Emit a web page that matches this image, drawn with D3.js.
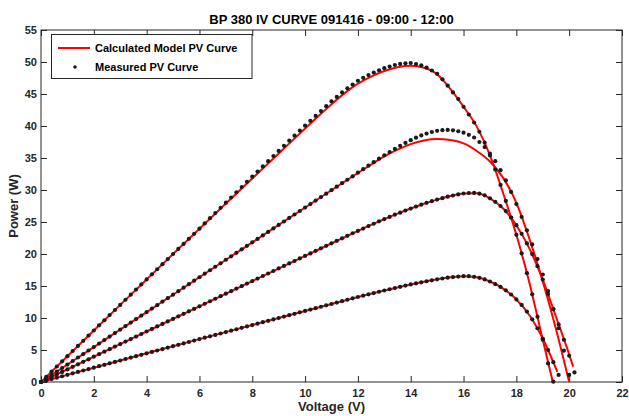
<!DOCTYPE html>
<html>
<head>
<meta charset="utf-8">
<script src="https://cdn.jsdelivr.net/npm/d3@7"></script>
<style>
  body { margin: 0; background: #fff; }
  svg { display: block; font-family: "Liberation Sans", Arial, Helvetica, sans-serif; }
</style>
</head>
<body>
<div id="chart"></div>
<script>
// ---- texts ----
const titleText = "BP 380 IV CURVE 091416 - 09:00 - 12:00";
const xLabel = "Voltage (V)";
const yLabel = "Power (W)";
const legendLabels = ["Calculated Model PV Curve", "Measured PV Curve"];

// ---- ticks ----
const xTicks = [0, 2, 4, 6, 8, 10, 12, 14, 16, 18, 20, 22];
const yTicks = [0, 5, 10, 15, 20, 25, 30, 35, 40, 45, 50, 55];

// ---- measured points : voltage grid shared by the four sweeps ----
const measuredV = [0, 0.2, 0.4, 0.6, 0.8, 1, 1.2, 1.4, 1.6, 1.8,
  2, 2.2, 2.4, 2.6, 2.8, 3, 3.2, 3.4, 3.6, 3.8,
  4, 4.2, 4.4, 4.6, 4.8, 5, 5.2, 5.4, 5.6, 5.8,
  6, 6.2, 6.4, 6.6, 6.8, 7, 7.2, 7.4, 7.6, 7.8,
  8, 8.2, 8.4, 8.6, 8.8, 9, 9.2, 9.4, 9.6, 9.8,
  10, 10.2, 10.4, 10.6, 10.8, 11, 11.2, 11.4, 11.6, 11.8,
  12, 12.2, 12.4, 12.6, 12.8, 13, 13.2, 13.4, 13.6, 13.8,
  14, 14.2, 14.4, 14.6, 14.8, 15, 15.2, 15.4, 15.6, 15.8,
  16, 16.2, 16.4, 16.6, 16.8, 17, 17.2, 17.4, 17.6, 17.8,
  18, 18.2, 18.4, 18.6, 18.8, 19, 19.2, 19.4, 19.6, 19.8,
  20, 20.2];

const measuredP1 = [0, 0.81, 1.61, 2.42, 3.23, 4.03, 4.84, 5.64, 6.44, 7.25,
  8.05, 8.85, 9.65, 10.45, 11.25, 12.05, 12.85, 13.64, 14.44, 15.24,
  16.03, 16.83, 17.62, 18.41, 19.21, 20.0, 20.79, 21.58, 22.37, 23.16,
  23.95, 24.77, 25.59, 26.39, 27.21, 28.02, 28.83, 29.65, 30.45, 31.27,
  32.08, 32.88, 33.69, 34.5, 35.31, 36.11, 36.91, 37.71, 38.49, 39.28,
  40.05, 40.81, 41.57, 42.33, 43.09, 43.85, 44.54, 45.24, 45.89, 46.48,
  47.07, 47.52, 47.95, 48.36, 48.71, 49.04, 49.29, 49.53, 49.7, 49.79,
  49.84, 49.68, 49.48, 49.13, 48.67, 48.16, 47.3, 46.3, 45.25, 44.2,
  43.0, 41.8, 40.55, 39.1, 37.4, 35.4, 33.2, 30.8, 28.3, 25.7,
  23.0, 20.1, 17.0, 13.7, 10.2, 6.6, 2.9, 0.05];

const measuredP2 = [0, 0.55, 1.09, 1.64, 2.19, 2.73, 3.28, 3.83, 4.37, 4.92,
  5.46, 6.01, 6.56, 7.10, 7.65, 8.19, 8.74, 9.28, 9.83, 10.38,
  10.92, 11.47, 12.01, 12.56, 13.10, 13.65, 14.19, 14.74, 15.28, 15.83,
  16.37, 16.92, 17.46, 18.01, 18.55, 19.10, 19.64, 20.19, 20.73, 21.27,
  21.82, 22.36, 22.91, 23.45, 24.0, 24.54, 25.08, 25.63, 26.17, 26.72,
  27.26, 27.8, 28.35, 28.89, 29.43, 29.98, 30.52, 31.06, 31.6, 32.14,
  32.7, 33.25, 33.8, 34.35, 34.9, 35.42, 35.93, 36.42, 36.9, 37.35,
  37.78, 38.17, 38.52, 38.82, 39.06, 39.24, 39.35, 39.38, 39.33, 39.18,
  38.95, 38.62, 38.2, 37.5, 36.7, 35.7, 34.5, 33.1, 31.5, 29.7,
  27.8, 25.8, 23.7, 21.5, 19.2, 16.8, 14.2, 11.4, 8.4, 4.9,
  1.1];

const measuredP3 = [0, 0.4, 0.79, 1.19, 1.58, 1.97, 2.37, 2.76, 3.16, 3.55,
  3.95, 4.34, 4.74, 5.13, 5.53, 5.92, 6.32, 6.71, 7.10, 7.50,
  7.89, 8.29, 8.68, 9.07, 9.47, 9.86, 10.26, 10.65, 11.04, 11.44,
  11.83, 12.23, 12.62, 13.01, 13.41, 13.8, 14.19, 14.59, 14.98, 15.38,
  15.77, 16.16, 16.56, 16.95, 17.34, 17.74, 18.13, 18.52, 18.91, 19.31,
  19.7, 20.09, 20.49, 20.88, 21.27, 21.67, 22.06, 22.45, 22.84, 23.24,
  23.6, 23.98, 24.36, 24.73, 25.1, 25.45, 25.8, 26.14, 26.46, 26.79,
  27.1, 27.41, 27.71, 27.99, 28.25, 28.5, 28.73, 28.95, 29.14, 29.31,
  29.45, 29.53, 29.54, 29.43, 29.17, 28.7, 28.15, 27.5, 26.7, 25.7,
  24.5, 23.15, 21.65, 20.0, 18.1, 16.0, 13.75, 11.4, 9.0, 6.6,
  4.1, 1.5];

const measuredP4 = [0, 0.22, 0.45, 0.67, 0.9, 1.12, 1.35, 1.57, 1.8, 2.02,
  2.24, 2.47, 2.69, 2.92, 3.14, 3.36, 3.59, 3.81, 4.03, 4.25,
  4.48, 4.7, 4.92, 5.14, 5.37, 5.59, 5.81, 6.03, 6.25, 6.47,
  6.7, 6.92, 7.14, 7.36, 7.58, 7.8, 8.02, 8.24, 8.46, 8.68,
  8.9, 9.12, 9.34, 9.56, 9.78, 10.0, 10.22, 10.44, 10.66, 10.88,
  11.1, 11.32, 11.54, 11.76, 11.98, 12.19, 12.41, 12.63, 12.85, 13.07,
  13.28, 13.49, 13.7, 13.9, 14.1, 14.3, 14.49, 14.69, 14.87, 15.06,
  15.24, 15.41, 15.58, 15.74, 15.89, 16.04, 16.17, 16.3, 16.4, 16.48,
  16.53, 16.53, 16.44, 16.27, 16.02, 15.7, 15.3, 14.85, 14.33, 13.67,
  12.9, 12.05, 11.0, 9.8, 8.4, 6.8, 5.0, 3.1, 1.1];

// ---- calculated model curves ----
const modelV1 = [0, 1, 2, 3, 4, 5, 6, 7, 8, 9, 10, 11, 11.5, 12, 12.5, 13, 13.5, 14, 14.5, 15, 15.5, 16, 16.5, 17, 17.5, 18, 18.5, 19, 19.38];
const modelP1 = [0, 4.03, 8.05, 12.05, 16.03, 20.0, 23.95, 27.89, 31.81, 35.71, 39.6, 43.4, 45.14, 46.62, 47.73, 48.59, 49.19, 49.41, 49.1, 48.1, 45.8, 43.0, 39.9, 35.4, 29.5, 23.0, 15.4, 6.6, 0];

const modelV2 = [0, 2, 4, 6, 8, 10, 12, 12.5, 13, 13.5, 14, 14.5, 15, 15.5, 16, 16.5, 17, 17.5, 18, 18.5, 19, 19.5, 20];
const modelP2 = [0, 5.46, 10.92, 16.37, 21.82, 27.26, 32.66, 33.98, 35.26, 36.3, 37.17, 37.74, 37.95, 37.82, 37.28, 36.1, 34.45, 31.9, 28.0, 22.3, 15.7, 8.3, 0];

const modelV3 = [0, 2, 4, 6, 8, 10, 12, 12.5, 13, 13.5, 14, 14.5, 15, 15.5, 16, 16.5, 17, 17.5, 18, 18.5, 19, 19.5, 20, 20.15];
const modelP3 = [0, 3.95, 7.89, 11.83, 15.77, 19.7, 23.6, 24.55, 25.45, 26.3, 27.1, 27.85, 28.5, 29.05, 29.45, 29.5, 28.7, 27.1, 24.5, 20.8, 16.0, 10.2, 4.3, 2.4];

const modelV4 = [0, 2, 4, 6, 8, 10, 12, 12.5, 13, 13.5, 14, 14.5, 15, 15.5, 16, 16.5, 17, 17.5, 18, 18.5, 19, 19.55];
const modelP4 = [0, 2.24, 4.48, 6.7, 8.9, 11.1, 13.28, 13.8, 14.3, 14.78, 15.24, 15.66, 16.04, 16.35, 16.53, 16.35, 15.7, 14.6, 12.9, 10.4, 6.8, 1.6];

// ==========================================
// layout
// ==========================================
const width = 629, height = 416;
const margin = { top: 30, right: 7, bottom: 34, left: 41 };
const axisColor = "#262626";
const dotR = 2.1;

const svg = d3.select("#chart").append("svg")
  .attr("width", width).attr("height", height);

const x = d3.scaleLinear().domain([0, 22]).range([margin.left, width - margin.right]);
const y = d3.scaleLinear().domain([0, 55]).range([height - margin.bottom, margin.top]);

// axes (MATLAB style: ticks inside, box on)
function styleAxis(g) {
  g.select(".domain").remove();
  g.selectAll(".tick line").attr("stroke", axisColor);
  g.selectAll(".tick text").attr("fill", axisColor)
    .style("font-size", "11px").style("font-weight", "bold");
}

svg.append("g").attr("transform", `translate(0,${y(0)})`)
  .call(d3.axisBottom(x).tickValues(xTicks).tickSize(-6).tickPadding(7).tickFormat(d3.format("d")))
  .call(styleAxis);
svg.append("g").attr("transform", `translate(0,${y(55)})`)
  .call(d3.axisTop(x).tickValues(xTicks).tickSize(-6).tickFormat(""))
  .call(styleAxis);
svg.append("g").attr("transform", `translate(${x(0)},0)`)
  .call(d3.axisLeft(y).tickValues(yTicks).tickSize(-6).tickPadding(4).tickFormat(d3.format("d")))
  .call(styleAxis);
svg.append("g").attr("transform", `translate(${x(22)},0)`)
  .call(d3.axisRight(y).tickValues(yTicks).tickSize(-6).tickFormat(""))
  .call(styleAxis);

svg.append("rect")
  .attr("x", x(0)).attr("y", y(55))
  .attr("width", x(22) - x(0)).attr("height", y(0) - y(55))
  .attr("fill", "none").attr("stroke", axisColor).attr("stroke-width", 1);

// ==========================================
// curves
// ==========================================
const models = [[modelV1, modelP1], [modelV2, modelP2], [modelV3, modelP3], [modelV4, modelP4]];
const measured = [measuredP1, measuredP2, measuredP3, measuredP4];

const line = d3.line().curve(d3.curveMonotoneX).x(d => x(d[0])).y(d => y(d[1]));

models.forEach(([vs, ps]) => {
  svg.append("path")
    .datum(vs.map((v, i) => [v, ps[i]]))
    .attr("d", line)
    .attr("fill", "none").attr("stroke", "#ff0000").attr("stroke-width", 2);
});

measured.forEach(ps => {
  svg.append("g").selectAll("circle")
    .data(ps.map((p, i) => [measuredV[i], p]))
    .join("circle")
    .attr("cx", d => x(d[0])).attr("cy", d => y(d[1]))
    .attr("r", dotR).attr("fill", "#1a1a1a");
});

// ==========================================
// texts
// ==========================================
svg.append("text").attr("x", (x(0) + x(22)) / 2).attr("y", 24)
  .attr("text-anchor", "middle").attr("fill", "#000")
  .style("font-size", "13px").style("font-weight", "bold").text(titleText);

svg.append("text").attr("x", (x(0) + x(22)) / 2).attr("y", 411)
  .attr("text-anchor", "middle").attr("fill", axisColor)
  .style("font-size", "13px").style("font-weight", "bold").text(xLabel);

svg.append("text").attr("transform", `translate(18,${(y(0) + y(55)) / 2}) rotate(-90)`)
  .attr("text-anchor", "middle").attr("fill", axisColor)
  .style("font-size", "13px").style("font-weight", "bold").text(yLabel);

// ---- legend ----
const legend = svg.append("g");
legend.append("rect")
  .attr("x", 51.5).attr("y", 34.5).attr("width", 200.5).attr("height", 44)
  .attr("fill", "#fff").attr("stroke", axisColor).attr("stroke-width", 1);
legend.append("line")
  .attr("x1", 58).attr("x2", 90).attr("y1", 48).attr("y2", 48)
  .attr("stroke", "#ff0000").attr("stroke-width", 2);
legend.append("circle").attr("cx", 75).attr("cy", 67).attr("r", 1.8).attr("fill", "#1a1a1a");
legendLabels.forEach((t, i) => {
  legend.append("text").attr("x", 95).attr("y", 52 + i * 19)
    .attr("fill", "#000").style("font-size", "11px").style("font-weight", "bold").text(t);
});
</script>
</body>
</html>
